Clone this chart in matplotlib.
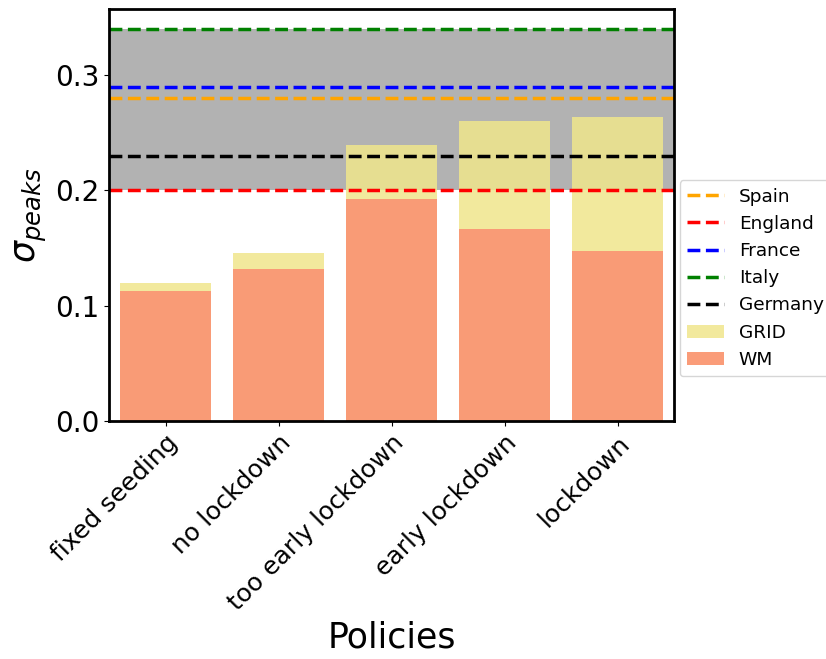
import matplotlib
matplotlib.use('Agg')
import matplotlib.pyplot as plt
import numpy as np

# policies on the x axis
policies = ['fixed seeding', 'no lockdown', 'too early lockdown', 'early lockdown', 'lockdown']

# sigma of the peaks for each model
grid = [0.1195, 0.1458, 0.2393, 0.2600, 0.2632]
wm = [0.1127, 0.1317, 0.1928, 0.1665, 0.1475]

# reference values for the countries
countries = ['Spain', 'England', 'France', 'Italy', 'Germany']
country_sigma = [0.28, 0.20, 0.29, 0.34, 0.23]
country_colors = ['orange', 'red', 'blue', 'green', 'black']

fig = plt.figure(figsize=(8.26, 6.59), dpi=100)
ax = fig.add_axes([0.132, 0.361, 0.684, 0.625])

x = np.arange(len(policies))

# band between the lowest and highest country value
ax.axhspan(min(country_sigma), max(country_sigma), color='gray', alpha=0.6, lw=0)

b_grid = ax.bar(x, grid, width=0.8, color='khaki', alpha=0.85, label='GRID')
b_wm = ax.bar(x, wm, width=0.8, color='#fa9a76', alpha=0.98, label='WM')

lines = []
for name, val, col in zip(countries, country_sigma, country_colors):
    ln = ax.axhline(val, color=col, linestyle='--', linewidth=2.5, label=name)
    lines.append(ln)

ax.set_xlim(-0.5, len(policies) - 0.5)
ax.set_ylim(0, 0.357)
ax.set_yticks([0.0, 0.1, 0.2, 0.3])
ax.set_xticks(x)
ax.set_xticklabels(policies, rotation=45, ha='right', rotation_mode='anchor', fontsize=18)
ax.tick_params(axis='y', labelsize=20)

for s in ax.spines.values():
    s.set_linewidth(2)

ax.set_xlabel('Policies', fontsize=25)
ax.set_ylabel(r'$\sigma_{peaks}$', fontsize=25)

ax.legend(handles=lines + [b_grid, b_wm], loc='upper left',
          bbox_to_anchor=(1.01, 0.585), borderaxespad=0, fontsize=13.3)

fig.savefig('out.png', dpi=100)
